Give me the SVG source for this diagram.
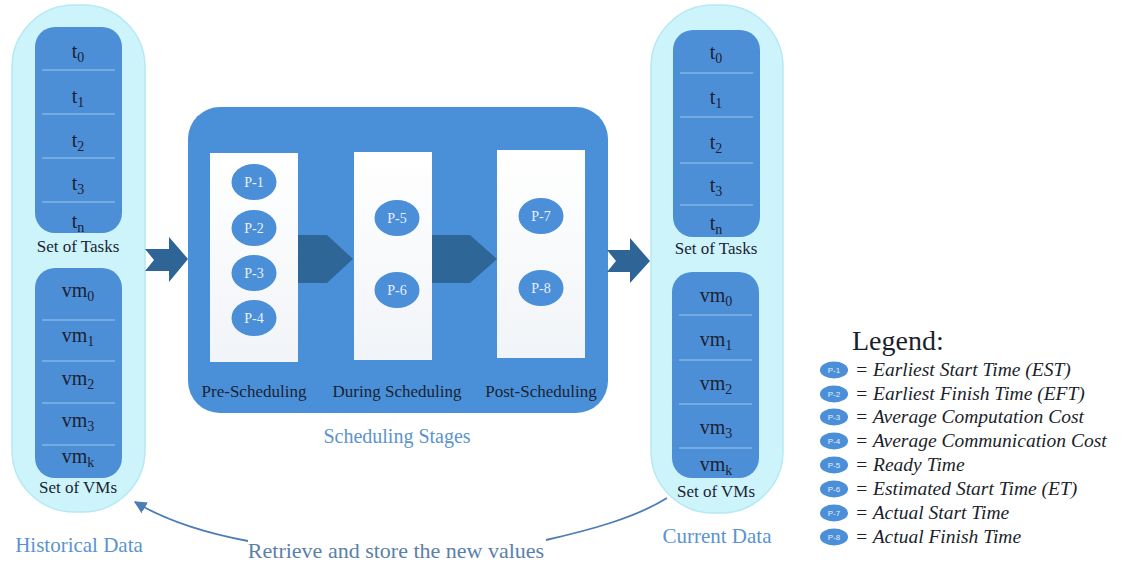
<svg xmlns="http://www.w3.org/2000/svg" width="1122" height="565" viewBox="0 0 1122 565">
  <defs>
    <style>
      .pill { fill: #cdf4fb; stroke: #b5e9f4; stroke-width: 1.5; }
      .block { fill: #4d8fd6; }
      .div { stroke: #9cc8f0; stroke-width: 1.2; }
      .lbl { font-family: "Liberation Serif", "Times New Roman", serif; font-size: 20px; fill: #1b1f33; text-anchor: middle; }
      .sub { font-size: 14px; }
      .set { font-family: "Liberation Serif", "Times New Roman", serif; font-size: 17px; fill: #1b1f33; text-anchor: middle; }
      .cap { font-family: "Liberation Serif", "Times New Roman", serif; font-size: 21px; fill: #5b93cf; text-anchor: middle; }
      .stage { font-family: "Liberation Serif", "Times New Roman", serif; font-size: 17px; fill: #1b2333; text-anchor: middle; }
      .panel { fill: url(#panelFill); }
      .p { fill: #4a8fd8; }
      .ptxt { font-family: "Liberation Serif", "Times New Roman", serif; font-size: 14px; fill: #e9f1fb; text-anchor: middle; }
      .chev { fill: #2f6698; }
      .big { fill: #2e6496; }
      .conn { fill: none; stroke: #4c7db5; stroke-width: 1.8; }
      .leg { font-family: "Liberation Serif", "Times New Roman", serif; font-size: 19.5px; font-style: italic; fill: #1b1f2b; }
      .lp { fill: #4a8fd8; }
      .lptxt { font-family: "Liberation Sans", Arial, sans-serif; font-size: 8px; fill: #e6effa; text-anchor: middle; }
    </style>
    <linearGradient id="panelFill" x1="0" y1="0" x2="0" y2="1">
      <stop offset="0" stop-color="#ffffff"/>
      <stop offset="1" stop-color="#f1f4f8"/>
    </linearGradient>
    <marker id="head" viewBox="0 0 10 10" refX="9" refY="5" markerWidth="7" markerHeight="7" orient="auto">
      <path d="M0,0 L10,5 L0,10 Z" fill="#4c7db5"/>
    </marker>
  </defs>

  <rect width="1122" height="565" fill="#ffffff"/>

  <!-- Historical data column -->
  <g id="historical-data">
    <rect class="pill" x="12" y="5" width="133" height="507" rx="62"/>
    <g id="hist-tasks">
      <rect class="block" x="35" y="27" width="87" height="206" rx="20"/>
      <line class="div" x1="42" y1="70" x2="115" y2="70"/>
      <line class="div" x1="42" y1="114" x2="115" y2="114"/>
      <line class="div" x1="42" y1="158" x2="115" y2="158"/>
      <line class="div" x1="42" y1="202" x2="115" y2="202"/>
      <text class="lbl" x="78" y="58">t<tspan class="sub" dy="4">0</tspan></text>
      <text class="lbl" x="78" y="103">t<tspan class="sub" dy="4">1</tspan></text>
      <text class="lbl" x="78" y="147">t<tspan class="sub" dy="4">2</tspan></text>
      <text class="lbl" x="78" y="190">t<tspan class="sub" dy="4">3</tspan></text>
      <text class="lbl" x="78" y="228">t<tspan class="sub" dy="4">n</tspan></text>
      <text class="set" x="78" y="252">Set of Tasks</text>
    </g>
    <g id="hist-vms">
      <rect class="block" x="35" y="268" width="87" height="210" rx="20"/>
      <line class="div" x1="42" y1="320" x2="115" y2="320"/>
      <line class="div" x1="42" y1="361" x2="115" y2="361"/>
      <line class="div" x1="42" y1="403" x2="115" y2="403"/>
      <line class="div" x1="42" y1="445" x2="115" y2="445"/>
      <text class="lbl" x="78" y="297">vm<tspan class="sub" dy="4">0</tspan></text>
      <text class="lbl" x="78" y="342">vm<tspan class="sub" dy="4">1</tspan></text>
      <text class="lbl" x="78" y="385">vm<tspan class="sub" dy="4">2</tspan></text>
      <text class="lbl" x="78" y="427">vm<tspan class="sub" dy="4">3</tspan></text>
      <text class="lbl" x="78" y="463">vm<tspan class="sub" dy="4">k</tspan></text>
      <text class="set" x="78" y="493">Set of VMs</text>
    </g>
    <text class="cap" x="79" y="552">Historical Data</text>
  </g>

  <!-- Scheduling stages -->
  <g id="scheduling-stages">
    <rect x="188" y="107" width="420" height="306" rx="32" fill="#4a90d9"/>
    <g id="pre-scheduling">
      <rect class="panel" x="210" y="153" width="88" height="209"/>
      <ellipse class="p" cx="254" cy="182" rx="22.5" ry="18"/>
      <text class="ptxt" x="254" y="187">P-1</text>
      <ellipse class="p" cx="254" cy="228" rx="22.5" ry="18"/>
      <text class="ptxt" x="254" y="233">P-2</text>
      <ellipse class="p" cx="254" cy="273" rx="22.5" ry="18"/>
      <text class="ptxt" x="254" y="278">P-3</text>
      <ellipse class="p" cx="254" cy="318" rx="22.5" ry="18"/>
      <text class="ptxt" x="254" y="323">P-4</text>
      <text class="stage" x="254" y="397">Pre-Scheduling</text>
    </g>
    <g id="during-scheduling">
      <rect class="panel" x="354" y="152" width="78" height="208"/>
      <ellipse class="p" cx="397" cy="218" rx="22.5" ry="18"/>
      <text class="ptxt" x="397" y="223">P-5</text>
      <ellipse class="p" cx="397" cy="290" rx="22.5" ry="18"/>
      <text class="ptxt" x="397" y="295">P-6</text>
      <text class="stage" x="397" y="397">During Scheduling</text>
    </g>
    <g id="post-scheduling">
      <rect class="panel" x="497" y="150" width="88" height="208"/>
      <ellipse class="p" cx="541" cy="216" rx="22.5" ry="18"/>
      <text class="ptxt" x="541" y="221">P-7</text>
      <ellipse class="p" cx="541" cy="288" rx="22.5" ry="18"/>
      <text class="ptxt" x="541" y="293">P-8</text>
      <text class="stage" x="541" y="397">Post-Scheduling</text>
    </g>
    <text class="cap" x="397" y="443" style="font-size:20px">Scheduling Stages</text>
  </g>

  <!-- Current data column -->
  <g id="current-data">
    <rect class="pill" x="651" y="5" width="132" height="508" rx="62"/>
    <g id="cur-tasks">
      <rect class="block" x="673" y="30" width="87" height="207" rx="20"/>
      <line class="div" x1="680" y1="73" x2="753" y2="73"/>
      <line class="div" x1="680" y1="117" x2="753" y2="117"/>
      <line class="div" x1="680" y1="163" x2="753" y2="163"/>
      <line class="div" x1="680" y1="205" x2="753" y2="205"/>
      <text class="lbl" x="716" y="59">t<tspan class="sub" dy="4">0</tspan></text>
      <text class="lbl" x="716" y="104">t<tspan class="sub" dy="4">1</tspan></text>
      <text class="lbl" x="716" y="149">t<tspan class="sub" dy="4">2</tspan></text>
      <text class="lbl" x="716" y="192">t<tspan class="sub" dy="4">3</tspan></text>
      <text class="lbl" x="716" y="230">t<tspan class="sub" dy="4">n</tspan></text>
      <text class="set" x="716" y="254">Set of Tasks</text>
    </g>
    <g id="cur-vms">
      <rect class="block" x="672" y="272" width="87" height="206" rx="20"/>
      <line class="div" x1="679" y1="315" x2="752" y2="315"/>
      <line class="div" x1="679" y1="360" x2="752" y2="360"/>
      <line class="div" x1="679" y1="404" x2="752" y2="404"/>
      <line class="div" x1="679" y1="448" x2="752" y2="448"/>
      <text class="lbl" x="716" y="302">vm<tspan class="sub" dy="4">0</tspan></text>
      <text class="lbl" x="716" y="346">vm<tspan class="sub" dy="4">1</tspan></text>
      <text class="lbl" x="716" y="390">vm<tspan class="sub" dy="4">2</tspan></text>
      <text class="lbl" x="716" y="434">vm<tspan class="sub" dy="4">3</tspan></text>
      <text class="lbl" x="716" y="471">vm<tspan class="sub" dy="4">k</tspan></text>
      <text class="set" x="716" y="497">Set of VMs</text>
    </g>
    <text class="cap" x="717" y="543">Current Data</text>
  </g>

  <!-- Legend -->
  <g id="legend">
    <text x="852" y="350" font-family="Liberation Serif, Times New Roman, serif" font-size="28" fill="#1b1f2b">Legend:</text>
    <ellipse class="lp" cx="834" cy="370" rx="14" ry="8.5"/><text class="lptxt" x="834" y="373">P-1</text>
    <text class="leg" x="855" y="376">= Earliest Start Time (EST)</text>
    <ellipse class="lp" cx="834" cy="394" rx="14" ry="8.5"/><text class="lptxt" x="834" y="397">P-2</text>
    <text class="leg" x="855" y="400">= Earliest Finish Time (EFT)</text>
    <ellipse class="lp" cx="834" cy="417" rx="14" ry="8.5"/><text class="lptxt" x="834" y="420">P-3</text>
    <text class="leg" x="855" y="423">= Average Computation Cost</text>
    <ellipse class="lp" cx="834" cy="441" rx="14" ry="8.5"/><text class="lptxt" x="834" y="444">P-4</text>
    <text class="leg" x="855" y="447">= Average Communication Cost</text>
    <ellipse class="lp" cx="834" cy="465" rx="14" ry="8.5"/><text class="lptxt" x="834" y="468">P-5</text>
    <text class="leg" x="855" y="471">= Ready Time</text>
    <ellipse class="lp" cx="834" cy="489" rx="14" ry="8.5"/><text class="lptxt" x="834" y="492">P-6</text>
    <text class="leg" x="855" y="495">= Estimated Start Time (ET)</text>
    <ellipse class="lp" cx="834" cy="513" rx="14" ry="8.5"/><text class="lptxt" x="834" y="516">P-7</text>
    <text class="leg" x="855" y="519">= Actual Start Time</text>
    <ellipse class="lp" cx="834" cy="537" rx="14" ry="8.5"/><text class="lptxt" x="834" y="540">P-8</text>
    <text class="leg" x="855" y="543">= Actual Finish Time</text>
  </g>

  <!-- Flow arrows and the feedback connector -->
  <g id="connectors">
    <path class="big" d="M145,249 L169,249 L169,237 L188,259 L169,282 L169,271 L145,271 L154,260 Z"/>
    <path class="chev" d="M298,235 L327,235 L353,259 L327,283 L298,283 Z"/>
    <path class="chev" d="M432,235 L470,235 L497,259 L470,283 L432,283 Z"/>
    <path class="big" d="M607,250 L630,250 L630,238 L650,261 L630,283 L630,272 L607,272 L616,261 Z"/>
    <path class="conn" d="M248,541 C205,533 165,520 135,502" marker-end="url(#head)"/>
    <path class="conn" d="M546,540 C590,530 635,518 667,498"/>
    <text x="396" y="558" font-family="Liberation Serif, Times New Roman, serif" font-size="22" fill="#5a80aa" text-anchor="middle">Retrieve and store the new values</text>
  </g>
</svg>
